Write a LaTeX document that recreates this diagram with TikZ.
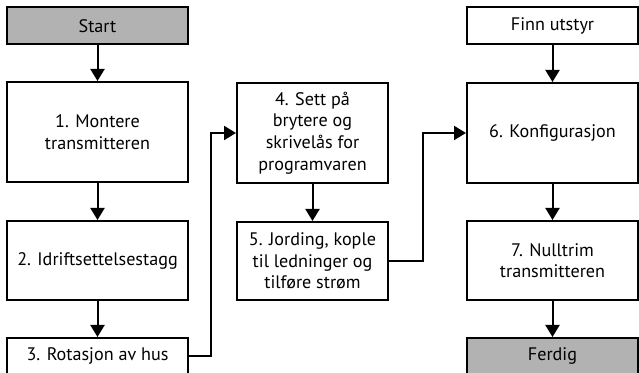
\documentclass[tikz,border=0pt]{standalone}
\usepackage{fontspec}
\setmainfont{PT Sans}
\usetikzlibrary{arrows.meta}
\definecolor{boxgray}{HTML}{B2B2B2}
\begin{document}
\begin{tikzpicture}[x=0.75pt,y=-0.75pt,
  box/.style={draw, line width=1.5pt, align=center, inner sep=0pt,
    font=\fontsize{13.6pt}{16.2pt}\selectfont},
  wa/.style={minimum width=181*0.75pt},
  wb/.style={minimum width=151*0.75pt},
  wc/.style={minimum width=171*0.75pt},
  hs/.style={minimum height=37*0.75pt},
  hl/.style={minimum height=100*0.75pt},
  hm/.style={minimum height=79*0.75pt},
  term/.style={fill=boxgray},
  arr/.style={line width=1.5pt, -{Triangle[width=10.5pt,length=9pt]}}]
\useasboundingbox (0,0) rectangle (639,373);
\node[box,wa,hs,term] (start) at (97.5,26) {Start};
\node[box,wa,hl] (n1) at (97.5,132) {1. Montere\\transmitteren};
\node[box,wa,hm] (n2) at (97.5,260.5) {2. Idriftsettelsestagg};
\node[box,wa,hs] (n3) at (97.5,356.5) {3. Rotasjon av hus};
\node[box,wb,hl] (n4) at (312.5,133) {4. Sett på\\brytere og\\skrivelås for\\programvaren};
\node[box,wb,minimum height=78*0.75pt] (n5) at (312.5,261) {5. Jording, kople\\til ledninger og\\tilføre strøm};
\node[box,wc,hs] (finn) at (552.5,25.5) {Finn utstyr};
\node[box,wc,hl] (n6) at (552.5,133) {6. Konfigurasjon};
\node[box,wc,hm] (n7) at (552.5,260.5) {7. Nulltrim\\transmitteren};
\node[box,wc,hs,term] (ferdig) at (552.5,356.5) {Ferdig};
\coordinate (c34) at (211,0);
\coordinate (c56) at (423,0);
\draw[arr] (start) -- (n1);
\draw[arr] (n1) -- (n2);
\draw[arr] (n2) -- (n3);
\draw[arr] (n3.east) -- (n3.east -| c34) |- (n4.west);
\draw[arr] (n4) -- (n5);
\draw[arr] (n5.east) -- (n5.east -| c56) |- (n6.west);
\draw[arr] (finn) -- (n6);
\draw[arr] (n6) -- (n7);
\draw[arr] (n7) -- (ferdig);
\end{tikzpicture}
\end{document}
